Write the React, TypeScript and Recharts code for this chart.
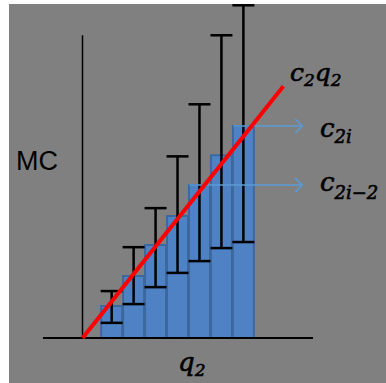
import { ComposedChart, Bar, ErrorBar, XAxis, YAxis, ReferenceLine } from "recharts";

// bar positions along q2 and marginal cost heights
const quantities = [1.35, 2.35, 3.35, 4.35, 5.35, 6.35, 7.35];
const costs = [1.06, 2.05, 3.07, 4.03, 5.05, 6.04, 7.0];
const lowerBounds = [0.5, 1.12, 1.68, 2.15, 2.54, 2.97, 3.17];
const upperBounds = [1.55, 3.0, 4.29, 6.0, 7.72, 10.0, 10.99];

// straight line c2*q2
const lineQ = [0, 9.15];
const lineC = [0, 8.32];

// arrows pointing out of bar i and bar i-2
const arrowFromQ = [6.87, 4.87];
const arrowToQ = 10.01;
const arrowLevels = [costs[6], costs[4]];

const data = quantities.map((q, i) => ({
  q,
  cost: costs[i],
  err: [costs[i] - lowerBounds[i], upperBounds[i] - costs[i]],
}));

const Arrow = (props: any) => {
  const { x1, y1, x2, y2 } = props;
  return (
    <g>
      <line x1={x1} y1={y1} x2={x2} y2={y2} stroke="#5b9bd5" strokeWidth={1.5} />
      <polyline points={`${x2 - 7},${y2 - 7} ${x2},${y2} ${x2 - 7},${y2 + 7}`} fill="none" stroke="#5b9bd5" strokeWidth={1.5} />
    </g>
  );
};

const math = { fontFamily: "'DejaVu Serif', serif", fontStyle: "italic" as const };

export default function App() {
  return (
    <div style={{ position: "absolute", left: 0, top: 0, width: 386, height: 383, background: "#fff" }}>
      <div style={{ position: "absolute", left: 9, top: 4, width: 377, height: 379, background: "#808080" }}>
        <ComposedChart width={377} height={379} data={data} margin={{ top: 1, right: 73, bottom: 45, left: 34 }}>
          <XAxis type="number" dataKey="q" domain={[-1.8, 10.5]} hide />
          <YAxis type="number" domain={[0, 11]} hide />
          <Bar dataKey="cost" barSize={21} fill="#4f82c4" stroke="#3d689e" strokeWidth={2} isAnimationActive={false}>
            <ErrorBar dataKey="err" width={11} stroke="#000" strokeWidth={2.5} direction="y" />
          </Bar>
          <ReferenceLine y={0} stroke="#000" strokeWidth={2} />
          <ReferenceLine segment={[{ x: 0, y: 0 }, { x: 0, y: 10 }]} stroke="#000" strokeWidth={1.5} />
          {arrowLevels.map((c, i) => (
            <ReferenceLine key={i} segment={[{ x: arrowFromQ[i], y: c }, { x: arrowToQ, y: c }]} shape={Arrow} />
          ))}
          <ReferenceLine segment={[{ x: lineQ[0], y: lineC[0] }, { x: lineQ[1], y: lineC[1] }]} stroke="#ff0000" strokeWidth={4} />
        </ComposedChart>
      </div>
      <svg width={386} height={383} style={{ position: "absolute", left: 0, top: 0, pointerEvents: "none" }}>
        <text x={16} y={170} fontFamily="'Liberation Sans', sans-serif" fontSize={27} fill="#000">MC</text>
        <g fill="#000" stroke="#000" strokeWidth={0.6} style={math}>
          <text x={290} y={81} fontSize={25}>
            c<tspan fontSize={17} dy={5}>2</tspan><tspan fontSize={25} dy={-5}>q</tspan><tspan fontSize={17} dy={5}>2</tspan>
          </text>
          <text x={320} y={137} fontSize={26}>
            c<tspan fontSize={18} dy={6}>2i</tspan>
          </text>
          <text x={320} y={191} fontSize={26}>
            c<tspan fontSize={18} dy={8}>2i−2</tspan>
          </text>
          <text x={178} y={371} fontSize={26}>
            q<tspan fontSize={17} dy={5}>2</tspan>
          </text>
        </g>
      </svg>
    </div>
  );
}
